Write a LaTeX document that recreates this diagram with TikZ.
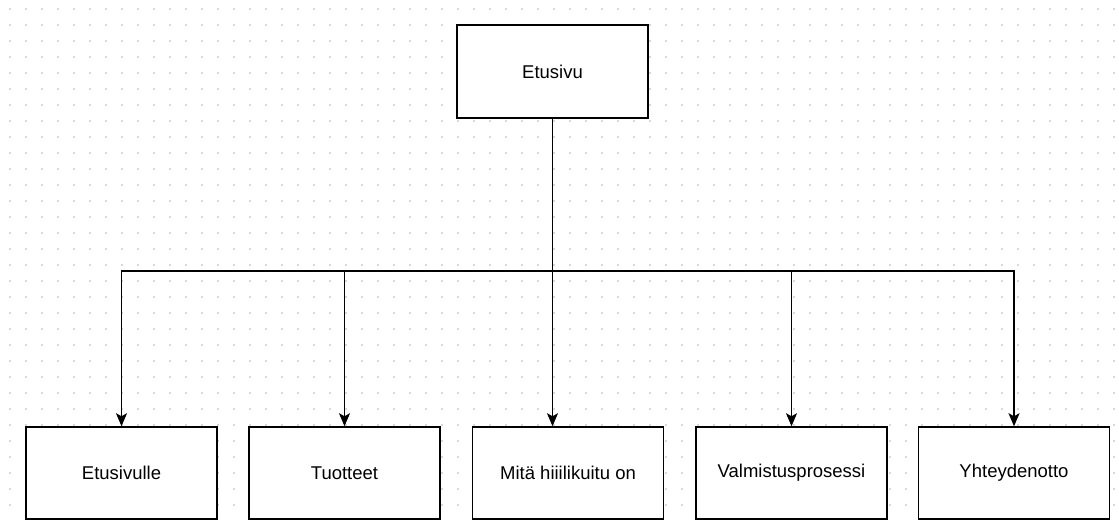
\documentclass[tikz,border=0pt]{standalone}
\usepackage{fontspec}
\setmainfont{Liberation Sans}
\usetikzlibrary{arrows.meta}
\definecolor{gridc}{HTML}{D8D8D8}
\tikzset{
  pagebox/.style={draw=black, line width=1.5pt, fill=white, minimum width=191pt, minimum height=92pt, inner sep=0pt, font=\fontsize{18.5}{22}\selectfont},
  conn/.style={draw=black, line width=1.5pt},
  arr/.style={conn, -{Stealth[length=13pt,width=11pt,inset=3pt]}}
}
\begin{document}
\begin{tikzpicture}[x=1pt,y=-1pt]
\useasboundingbox (0,0) rectangle (1119,520);
\fill[white] (0,0) rectangle (1119,520);
\foreach \gx in {10,26,...,1114}{
  \foreach \gy in {9,25,...,517}{
    \fill[gridc] (\gx-0.8,\gy-0.8) rectangle (\gx+0.8,\gy+0.8);
  }
}
\node[pagebox, minimum height=93pt] (top) at (552.5,71.5) {Etusivu};
\node[pagebox] (b1) at (121.5,473) {Etusivulle};
\node[pagebox] (b2) at (344.5,473) {Tuotteet};
\node[pagebox] (b3) at (568,473) {Mitä hiiilikuitu on};
\node[pagebox] (b4) at (791.5,473) {Valmistusprosessi};
\node[pagebox] (b5) at (1014,473) {Yhteydenotto};
\coordinate (j) at (552.5,271);
\draw[conn] (top.south) -- (j);
\draw[arr] (j) -| (b1.north);
\draw[arr] (j) -| (b2.north);
\draw[arr] (j) -- (j |- b3.north);
\draw[arr] (j) -| (b4.north);
\draw[arr] (j) -| (b5.north);
\end{tikzpicture}
\end{document}
